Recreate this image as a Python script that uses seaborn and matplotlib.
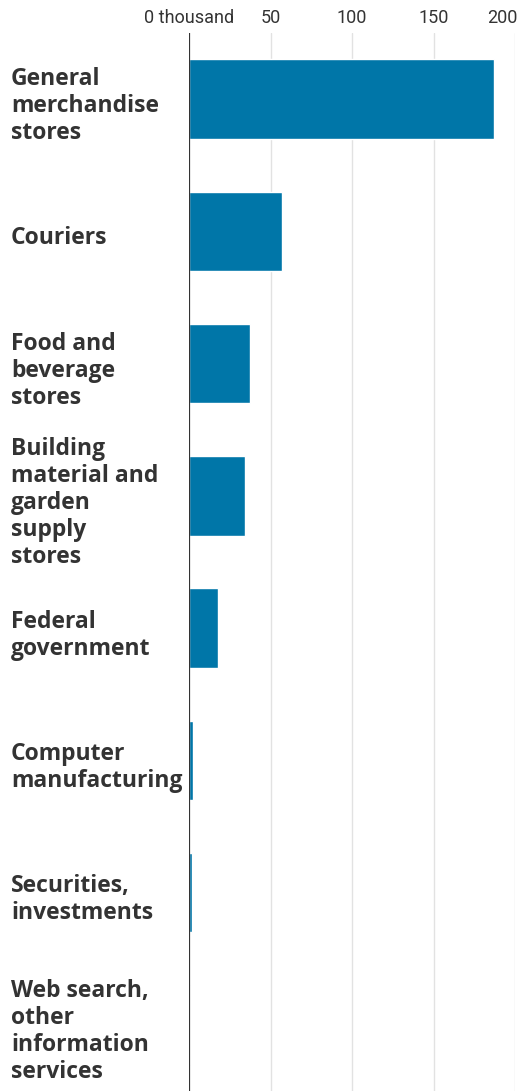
import matplotlib
matplotlib.use("Agg")
import matplotlib.pyplot as plt
import matplotlib.transforms as mtransforms
import seaborn as sns
import pandas as pd

categories = [
    "General\nmerchandise\nstores",
    "Couriers",
    "Food and\nbeverage\nstores",
    "Building\nmaterial and\ngarden\nsupply\nstores",
    "Federal\ngovernment",
    "Computer\nmanufacturing",
    "Securities,\ninvestments",
    "Web search,\nother\ninformation\nservices",
]
values = [187, 57, 37.3, 34.2, 17.7, 2.6, 1.8, 0.6]
tick_values = [0, 50, 100, 150, 200]
tick_labels = ["0 thousand", "50", "100", "150", "200"]

df = pd.DataFrame({"category": categories, "value": values})

sns.set_theme(style="white")
plt.rcParams["font.family"] = ["Open Sans", "DejaVu Sans"]

W, H = 518, 1091
fig = plt.figure(figsize=(W / 100, H / 100), dpi=100)
ax = fig.add_axes([189 / W, 0, (515 - 189) / W, 1 - 33 / H])

sns.barplot(data=df, x="value", y="category", orient="h", color="#0076a8",
            saturation=1, width=0.6, ax=ax)

ax.set_xlim(0, 200)
ax.set_ylim(len(categories) - 0.5, -0.5)
ax.set_xticks(tick_values)
ax.set_xticklabels([])
ax.tick_params(axis="both", length=0)
ax.set_yticks([])
ax.set_xlabel("")
ax.set_ylabel("")
for s in ax.spines.values():
    s.set_visible(False)

for v in tick_values[1:]:
    ax.axvline(v, color="#e2e2e2", lw=1, zorder=0)
ax.axvline(0, color="#333333", lw=1.6, zorder=5)

# top tick labels
trans_top = mtransforms.blended_transform_factory(ax.transData, fig.transFigure)
for v, lab in zip(tick_values, tick_labels):
    ha = "right" if v == tick_values[-1] else "center"
    xoff = 2 if v == tick_values[-1] else 0
    ax.text(v, 1 - 18 / H, lab,
            transform=trans_top + mtransforms.ScaledTranslation(xoff / 100, 0, fig.dpi_scale_trans),
            ha=ha, va="center", fontsize=13, color="#333333",
            family=["Liberation Sans Narrow", "Roboto", "DejaVu Sans"])

# category labels
trans_lab = mtransforms.blended_transform_factory(fig.transFigure, ax.transData) + \
    mtransforms.ScaledTranslation(0, -7 / 100, fig.dpi_scale_trans)
for i, lab in enumerate(categories):
    ax.text(11 / W, i, lab, transform=trans_lab, ha="left", va="center",
            fontsize=16.5, fontweight="bold", color="#333333", linespacing=1.17,
            clip_on=False)

fig.savefig("out.png", dpi=100)
